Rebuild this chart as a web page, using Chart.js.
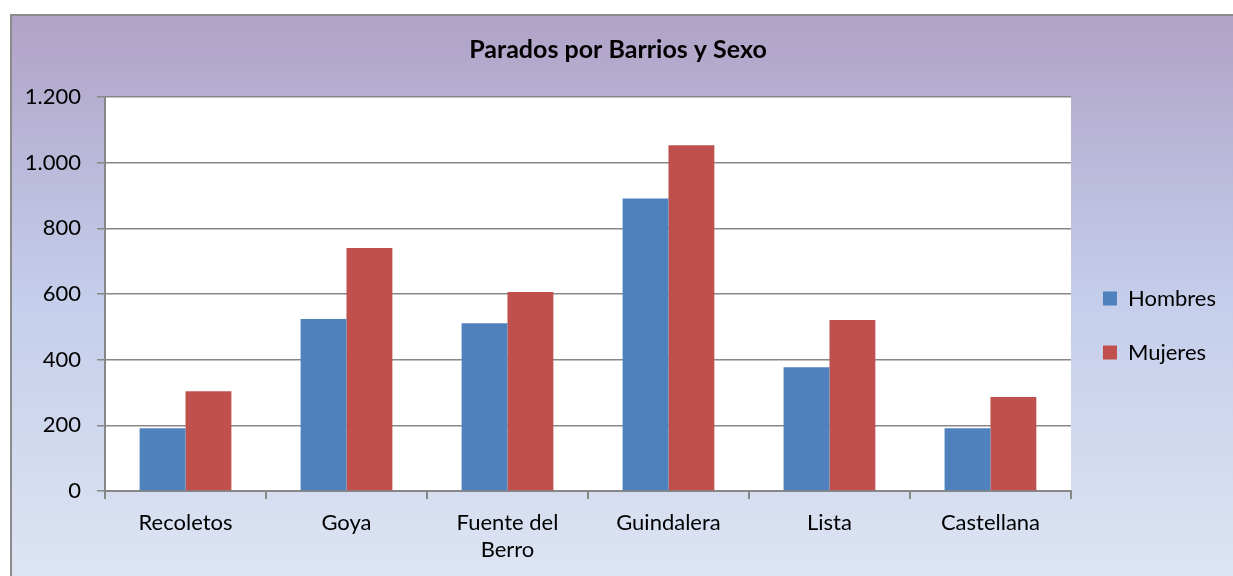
<!DOCTYPE html>
<html>
<head>
<meta charset="utf-8">
<script src="https://cdn.jsdelivr.net/npm/chart.js@4"></script>
<style>
  html, body { margin: 0; padding: 0; background: #ffffff; }
  #wrap { width: 1233px; height: 576px; }
</style>
</head>
<body>
<div id="wrap"><canvas id="barChart" width="1233" height="576"></canvas></div>
<script>
const barrios = ["Recoletos", "Goya", ["Fuente del", "Berro"], "Guindalera", "Lista", "Castellana"];
const hombres = [191, 524, 511, 891, 377, 191];
const mujeres = [304, 740, 606, 1053, 521, 286];
const yTicks = [0, 200, 400, 600, 800, 1000, 1200];

Chart.defaults.font.family = "Lato, 'Open Sans', sans-serif";
Chart.defaults.color = "#000000";

// fondo degradado tipo Excel y area de trazado blanca
const backgroundPlugin = {
  id: "backgroundPlugin",
  beforeDraw(chart) {
    const ctx = chart.ctx;
    const area = chart.chartArea;
    ctx.save();
    ctx.fillStyle = "#ffffff";
    ctx.fillRect(0, 0, chart.width, chart.height);
    const grad = ctx.createLinearGradient(0, 14, 0, chart.height);
    grad.addColorStop(0, "#b0a2c6");
    grad.addColorStop(0.5, "#c4cdea");
    grad.addColorStop(1, "#dde4f3");
    ctx.fillStyle = grad;
    ctx.fillRect(10, 14, chart.width, chart.height);
    ctx.strokeStyle = "#8c8c8c";
    ctx.lineWidth = 2;
    ctx.strokeRect(11, 15, chart.width + 10, chart.height + 10);
    ctx.fillStyle = "#ffffff";
    ctx.fillRect(area.left, area.top, area.right - area.left, area.bottom - area.top);
    ctx.restore();
  },
};

new Chart(document.getElementById("barChart"), {
  type: "bar",
  data: {
    labels: barrios,
    datasets: [
      {
        label: "Hombres",
        data: hombres,
        backgroundColor: "#4f81bd",
      },
      {
        label: "Mujeres",
        data: mujeres,
        backgroundColor: "#c0504d",
      },
    ],
  },
  options: {
    responsive: false,
    animation: false,
    layout: {
      padding: { left: 10, right: 7, top: 0, bottom: 0 },
    },
    datasets: {
      bar: {
        categoryPercentage: 0.57,
        barPercentage: 1,
      },
    },
    scales: {
      y: {
        min: 0,
        max: 1200,
        afterFit(scale) {
          scale.width = 95;
        },
        afterBuildTicks(scale) {
          scale.ticks = yTicks.map((v) => ({ value: v }));
        },
        ticks: {
          padding: 16,
          font: { size: 22 },
          callback: (value) => String(value).replace(/\B(?=(\d{3})+(?!\d))/g, "."),
        },
        grid: {
          color: "#878787",
          lineWidth: 1.5,
          tickLength: 8,
        },
        border: { color: "#878787", width: 2 },
      },
      x: {
        afterFit(scale) {
          scale.height = 85;
        },
        ticks: {
          padding: 11,
          font: { size: 22 },
        },
        grid: {
          display: true,
          drawOnChartArea: false,
          offset: true,
          color: "#878787",
          lineWidth: 2,
          tickLength: 8,
        },
        border: { color: "#878787", width: 2 },
      },
    },
    plugins: {
      title: {
        display: true,
        text: "Parados por Barrios y Sexo",
        font: { size: 25, weight: "bold" },
        padding: { top: 35, bottom: 32 },
      },
      legend: {
        position: "right",
        title: {
          display: true,
          text: " ",
          font: { size: 10 },
          padding: { top: 63, bottom: 0 },
        },
        labels: {
          boxWidth: 14,
          boxHeight: 14,
          padding: 32,
          font: { size: 22, lineHeight: 0.75 },
        },
      },
      tooltip: { enabled: false },
    },
  },
  plugins: [backgroundPlugin],
});
</script>
</body>
</html>
